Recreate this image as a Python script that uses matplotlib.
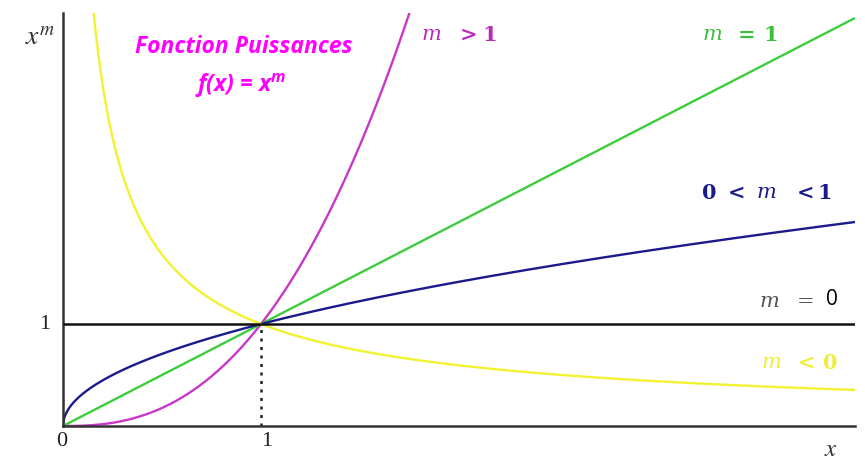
import numpy as np
import matplotlib
matplotlib.use("Agg")
import matplotlib.pyplot as plt

plt.rcParams["mathtext.fontset"] = "stix"
# fonts used only by texts that ask for the 'custom' math family
plt.rcParams["mathtext.it"] = "Open Sans:italic:bold"
plt.rcParams["mathtext.rm"] = "Open Sans:italic:bold"

# Exponents of the power functions f(x) = x^m
m_values = [2.5, 1.0, 0.5, 0.0, -0.75]
m_colors = ["#c838c8", "#3ccc3c", "#1a1a8c", "#111111", "#f2f230"]
x_max = 4.0
y_max = 4.05

W, H = 865, 464
X0, Y0 = 63, 427          # origin, pixels
SX, SY = 198, 102         # pixels per unit


def px(xp, yp):
    """pixel position -> data coordinates (for placing annotations)"""
    return (xp - X0) / SX, (Y0 - yp) / SY


fig = plt.figure(figsize=(W / 100, H / 100), dpi=100)
ax = fig.add_axes([X0 / W, (H - Y0) / H, x_max * SX / W, y_max * SY / H])
ax.set_xlim(0, x_max)
ax.set_ylim(0, y_max)

for m, c in zip(m_values, m_colors):
    if m < 0:
        x = np.linspace(0.12, x_max, 2000)
    elif m == 0:
        x = np.array([0.0, x_max])
    else:
        x = np.concatenate([[0.0], np.linspace(1e-4, x_max, 2000)])
    y = np.power(x, m) if m != 0 else np.ones_like(x)
    ax.plot(x, y, color=c, lw=1.7 if m != 0 else 1.8, solid_capstyle="butt",
            zorder=3 if m == 0 else 2)

# dotted guide at x = 1
ax.plot([1, 1], [0, 1], color="#222222", lw=1.8, linestyle=(0, (1.2, 2.2)), zorder=1)

for s in ["top", "right"]:
    ax.spines[s].set_visible(False)
for s in ["left", "bottom"]:
    ax.spines[s].set_color("#333333")
    ax.spines[s].set_linewidth(1.8)
ax.set_xticks([])
ax.set_yticks([])

serif = "Liberation Serif"
# tick labels
ax.text(*px(62, 442), "0", fontsize=16, family=serif, ha="center", va="center", color="#222222")
ax.text(*px(267, 442), "1", fontsize=16, family=serif, ha="center", va="center", color="#222222")
ax.text(*px(45, 325), "1", fontsize=16, family=serif, ha="center", va="center", color="#222222")
ax.text(*px(831, 449), r"$x$", fontsize=18, ha="center", va="center", color="#333333")
fig.text(40 / W, 1 - 37 / H, r"$x^{m}$", fontsize=20, ha="center", va="center", color="#333333")

# title
title_kw = dict(family="Open Sans", weight="bold", style="italic", color="#ff00ff")
ax.text(*px(244, 47), "Fonction Puissances", fontsize=16.5, ha="center", va="center", **title_kw)
ax.text(*px(195, 92), r"f(x) = x$^{\mathrm{m}}$", fontsize=16.5, ha="left", va="baseline",
        math_fontfamily="custom", **title_kw)

# curve labels: (colour, centre row pixel, [(glyphs, left pixel, kind)])
lab_font = "DejaVu Serif"
labels = [
    ("#b82cb8", 35, [("m", 422, "i"), (">", 460, "b"), ("1", 482, "b")]),
    ("#3cc03c", 35, [("m", 703, "i"), ("=", 738, "b"), ("1", 763, "b")]),
    ("#1a1a8c", 193, [("0", 702, "b"), ("<", 728, "b"), ("m", 757, "i"),
                      ("<", 797, "b"), ("1", 817, "b")]),
    ("#555555", 302, [("m", 760, "i"), ("=", 797, "r")]),
    ("#eeee3a", 363, [("m", 762, "i"), ("<", 798, "b"), ("0", 823, "b")]),
]
for color, yp, parts in labels:
    for s, xp, kind in parts:
        kw = dict(family=lab_font, fontsize=15, color=color, ha="left", va="center")
        if kind == "i":
            kw["style"] = "italic"
        elif kind == "b":
            kw["weight"] = "bold"
        ax.text(*px(xp, yp), s, **kw)
ax.text(*px(826, 300), "0", fontsize=15, family="Open Sans", color="#000000",
        ha="left", va="center")

fig.savefig("out.png", dpi=100, facecolor="white")
